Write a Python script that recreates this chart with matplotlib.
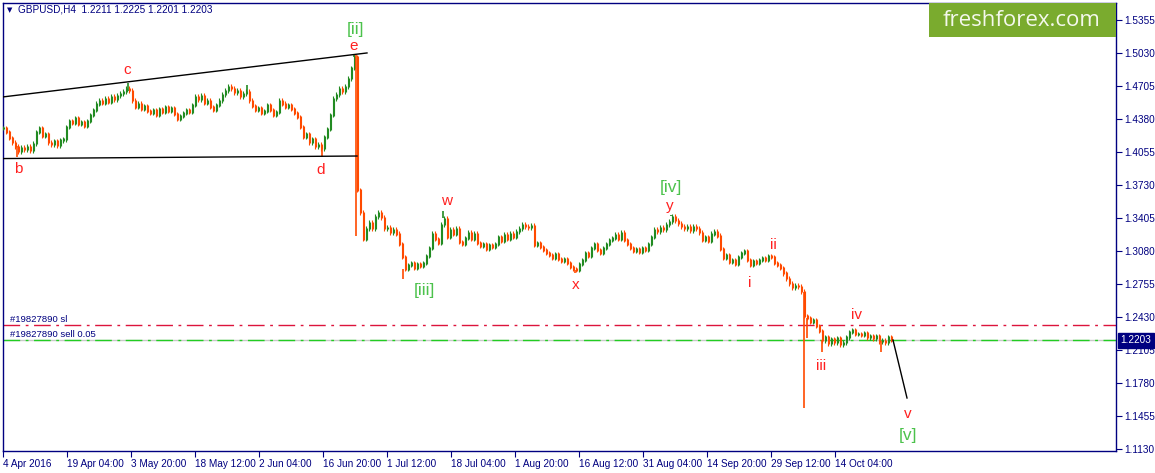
import numpy as np
import matplotlib
matplotlib.use("Agg")
import matplotlib.pyplot as plt
from matplotlib.patches import Rectangle

# GBPUSD H4 closes, one sample every 3 bars
closes = [
    1.4290, 1.4250, 1.4190, 1.4150, 1.4110, 1.4060, 1.4100, 1.4080, 1.4110, 1.4070,
    1.4140, 1.4250, 1.4290, 1.4210, 1.4230, 1.4150, 1.4130, 1.4160, 1.4120, 1.4170,
    1.4180, 1.4300, 1.4360, 1.4340, 1.4390, 1.4330, 1.4350, 1.4310, 1.4360, 1.4420,
    1.4470, 1.4530, 1.4560, 1.4540, 1.4580, 1.4550, 1.4600, 1.4570, 1.4610, 1.4630,
    1.4650, 1.4680, 1.4660, 1.4560, 1.4500, 1.4530, 1.4480, 1.4510, 1.4460, 1.4440,
    1.4470, 1.4420, 1.4480, 1.4450, 1.4500, 1.4460, 1.4490, 1.4430, 1.4380, 1.4410,
    1.4440, 1.4470, 1.4450, 1.4520, 1.4600, 1.4570, 1.4610, 1.4540, 1.4560, 1.4500,
    1.4470, 1.4520, 1.4560, 1.4620, 1.4660, 1.4700, 1.4680, 1.4640, 1.4660, 1.4600,
    1.4630, 1.4650, 1.4560, 1.4510, 1.4470, 1.4490, 1.4440, 1.4460, 1.4520, 1.4470,
    1.4420, 1.4450, 1.4560, 1.4530, 1.4500, 1.4520, 1.4480, 1.4440, 1.4400, 1.4300,
    1.4200, 1.4230, 1.4150, 1.4180, 1.4110, 1.4130, 1.4090, 1.4200, 1.4280, 1.4420,
    1.4580, 1.4620, 1.4680, 1.4650, 1.4700, 1.4780, 1.4880, 1.4990, 1.3680, 1.3460,
    1.3200, 1.3300, 1.3360, 1.3300, 1.3420, 1.3460, 1.3410, 1.3300, 1.3310, 1.3260,
    1.3290, 1.3250, 1.3150, 1.3020, 1.2900, 1.2940, 1.2960, 1.2910, 1.2950, 1.2930,
    1.2960, 1.3030, 1.3110, 1.3250, 1.3200, 1.3160, 1.3340, 1.3400, 1.3220, 1.3290,
    1.3250, 1.3300, 1.3170, 1.3150, 1.3210, 1.3260, 1.3200, 1.3250, 1.3160, 1.3130,
    1.3150, 1.3100, 1.3140, 1.3120, 1.3150, 1.3220, 1.3180, 1.3240, 1.3200, 1.3250,
    1.3220, 1.3270, 1.3300, 1.3340, 1.3320, 1.3310, 1.3330, 1.3140, 1.3160, 1.3120,
    1.3090, 1.3060, 1.3040, 1.3010, 1.3050, 1.3000, 1.2980, 1.3000, 1.2960, 1.2920,
    1.2900, 1.2890, 1.2950, 1.2990, 1.3060, 1.3030, 1.3110, 1.3150, 1.3090, 1.3060,
    1.3110, 1.3150, 1.3190, 1.3210, 1.3240, 1.3200, 1.3260, 1.3190, 1.3150, 1.3110,
    1.3080, 1.3100, 1.3070, 1.3110, 1.3090, 1.3150, 1.3220, 1.3290, 1.3270, 1.3310,
    1.3290, 1.3340, 1.3370, 1.3420, 1.3380, 1.3350, 1.3320, 1.3300, 1.3320, 1.3280,
    1.3320, 1.3300, 1.3260, 1.3190, 1.3220, 1.3180, 1.3250, 1.3270, 1.3230, 1.3100,
    1.3010, 1.3040, 1.2970, 1.2990, 1.2950, 1.3020, 1.3060, 1.3080, 1.2990, 1.2940,
    1.2980, 1.2960, 1.2990, 1.3010, 1.2990, 1.3030, 1.3020, 1.2960, 1.2940, 1.2910,
    1.2860, 1.2810, 1.2760, 1.2720, 1.2740, 1.2730, 1.2680, 1.2440, 1.2420, 1.2380,
    1.2400, 1.2340, 1.2290, 1.2200, 1.2230, 1.2170, 1.2210, 1.2180, 1.2220, 1.2160,
    1.2180, 1.2230, 1.2280, 1.2300, 1.2260, 1.2260, 1.2250, 1.2270, 1.2230, 1.2240,
    1.2220, 1.2240, 1.2190, 1.2200, 1.2180, 1.2230, 1.2203,
]
first_bar = 3
step = 3

# extreme wicks: bar position, price where the wick starts, price where it ends
spike_bar = [17, 128, 247, 322, 354, 356, 403, 443, 575, 671, 804, 807, 822, 881]
spike_from = [1.4110, 1.4660, 1.4650, 1.4090, 1.4990, 1.5010, 1.2900, 1.3400,
              1.2890, 1.3420, 1.2680, 1.2420, 1.2200, 1.2190]
spike_to = [1.4005, 1.4734, 1.4715, 1.4005, 1.5010, 1.3230, 1.2800, 1.3470,
            1.2860, 1.3435, 1.1534, 1.2220, 1.2085, 1.2085]

# wave labels
red_labels = ["e", "c", "b", "d", "w", "x", "y", "i", "ii", "iii", "iv", "v"]
red_x = [354, 127, 18, 321, 447, 576, 670, 750, 773, 821, 857, 908]
red_y = [1.5099, 1.4863, 1.3888, 1.3878, 1.3573, 1.2745, 1.3523, 1.2765,
         1.3139, 1.1947, 1.2450, 1.1475]
green_labels = ["[ii]", "[iii]", "[iv]", "[v]"]
green_x = [355, 424, 671, 908]
green_y = [1.5257, 1.2686, 1.3701, 1.1258]

# channel / projection lines
upper_line = ([3, 367], [1.4597, 1.5030])
lower_line = ([3, 357], [1.3990, 1.4015])
target_line = ([893, 907], [1.2203, 1.1632])

sl_price = 1.2351
sell_price = 1.2203
header = "GBPUSD,H4  1.2211 1.2225 1.2201 1.2203"

yticks = [1.5355, 1.5030, 1.4705, 1.4380, 1.4055, 1.3730, 1.3405, 1.3080,
          1.2755, 1.2430, 1.2105, 1.1780, 1.1455, 1.1130]
date_labels = ["4 Apr 2016", "19 Apr 04:00", "3 May 20:00", "18 May 12:00",
               "2 Jun 04:00", "16 Jun 20:00", "1 Jul 12:00", "18 Jul 04:00",
               "1 Aug 20:00", "16 Aug 12:00", "31 Aug 04:00", "14 Sep 20:00",
               "29 Sep 12:00", "14 Oct 04:00"]
date_step = 64

UP = "#228b22"
DOWN = "#ff4a00"
NAVY = "#000080"
RED = "#ff2020"
GREEN = "#4cc24c"

W, H = 1155, 473
fig = plt.figure(figsize=(W / 100, H / 100), dpi=100)
ax = fig.add_axes([3 / W, 22 / H, (1116 - 3) / W, (451 - 3) / H])
ax.set_xlim(3, 1116)
ax.set_ylim(1.1110, 1.5522)

# bars: vertical line from previous close to close, a little wick either side
c = np.array(closes)
xs = first_bar + step * np.arange(len(c))
opens = np.r_[c[0], c[:-1]]
cols = [UP if cl >= op else DOWN for op, cl in zip(opens, c)]
lo = np.minimum(opens, c) - 0.0022
hi = np.maximum(opens, c) + 0.0022
ax.vlines(xs, lo, hi, colors=cols, linewidth=0.8, zorder=3)
ax.vlines(xs + 1, np.minimum(opens, c) - 0.0008, np.maximum(opens, c) + 0.0008,
          colors=cols, linewidth=0.8, zorder=3)

sp_cols = [DOWN if b < a else UP for a, b in zip(spike_from, spike_to)]
ax.vlines(spike_bar, spike_from, spike_to, colors=sp_cols, linewidth=1.2, zorder=3)

ax.plot(*upper_line, color="black", lw=1.0, zorder=4)
ax.plot(*lower_line, color="black", lw=1.0, zorder=4)
ax.plot(*target_line, color="black", lw=1.0, zorder=4)

# order lines
ax.axhline(sell_price, color="#c8c8c8", lw=1.0, zorder=1)
ax.axhline(sell_price, color="#22cc22", lw=1.0, dashes=(12, 4, 2, 4), zorder=2)
ax.axhline(sl_price, color="#dc143c", lw=1.0, dashes=(12, 4, 2, 4), zorder=2)
ax.text(10, sl_price + 0.0012, "#19827890 sl", fontsize=6.8, color=NAVY,
        family="Liberation Sans", va="bottom")
ax.text(10, sell_price + 0.0012, "#19827890 sell 0.05", fontsize=6.8, color=NAVY,
        family="Liberation Sans", va="bottom")

for t, x, y in zip(red_labels, red_x, red_y):
    ax.text(x, y, t, color=RED, fontsize=11, ha="center", va="center",
            family="Liberation Sans", zorder=5)
for t, x, y in zip(green_labels, green_x, green_y):
    ax.text(x, y, t, color=GREEN, fontsize=12.5, ha="center", va="center",
            family="Liberation Sans", zorder=5)

# axes styling like the terminal
for s in ax.spines.values():
    s.set_color(NAVY)
    s.set_linewidth(1.0)
ax.yaxis.tick_right()
ax.set_yticks(yticks)
ax.set_yticklabels([f"{v:.4f}" for v in yticks])
ax.tick_params(axis="y", colors=NAVY, labelsize=7.2, length=4, width=0.8, pad=2,
               direction="out")
ax.set_xticks(first_bar + date_step * np.arange(len(date_labels)))
ax.set_xticklabels(date_labels, ha="left")
ax.tick_params(axis="x", colors=NAVY, labelsize=7.2, length=4, width=0.8, pad=2,
               direction="out")
for lab in ax.get_xticklabels() + ax.get_yticklabels():
    lab.set_family("Liberation Sans")

# current price tag
ax.annotate(f"{sell_price:.4f}", xy=(1.0, sell_price), xycoords=("axes fraction", "data"),
            xytext=(3, 0), textcoords="offset points", va="center", ha="left",
            fontsize=7.2, color="white", family="Liberation Sans", zorder=10,
            bbox=dict(boxstyle="square,pad=0.25", fc=NAVY, ec=NAVY),
            annotation_clip=False)

# header
fig.text(7 / W, 1 - 10 / H, "\u25bc", fontsize=5, color=NAVY, va="center")
fig.text(18 / W, 1 - 10 / H, header, fontsize=7.2, color=NAVY, va="center",
         family="Liberation Sans")

# logo
fig.patches.append(Rectangle((929 / W, 1 - 37 / H), (1116 - 929) / W, 34 / H,
                             transform=fig.transFigure, fc="#7aab2e", ec="none",
                             zorder=20))
fig.text(1022 / W, 1 - 20 / H, "freshforex.com", fontsize=16, color="#f4f8ec",
         ha="center", va="center", family="Open Sans", zorder=21)

fig.savefig("out.png", dpi=100)
